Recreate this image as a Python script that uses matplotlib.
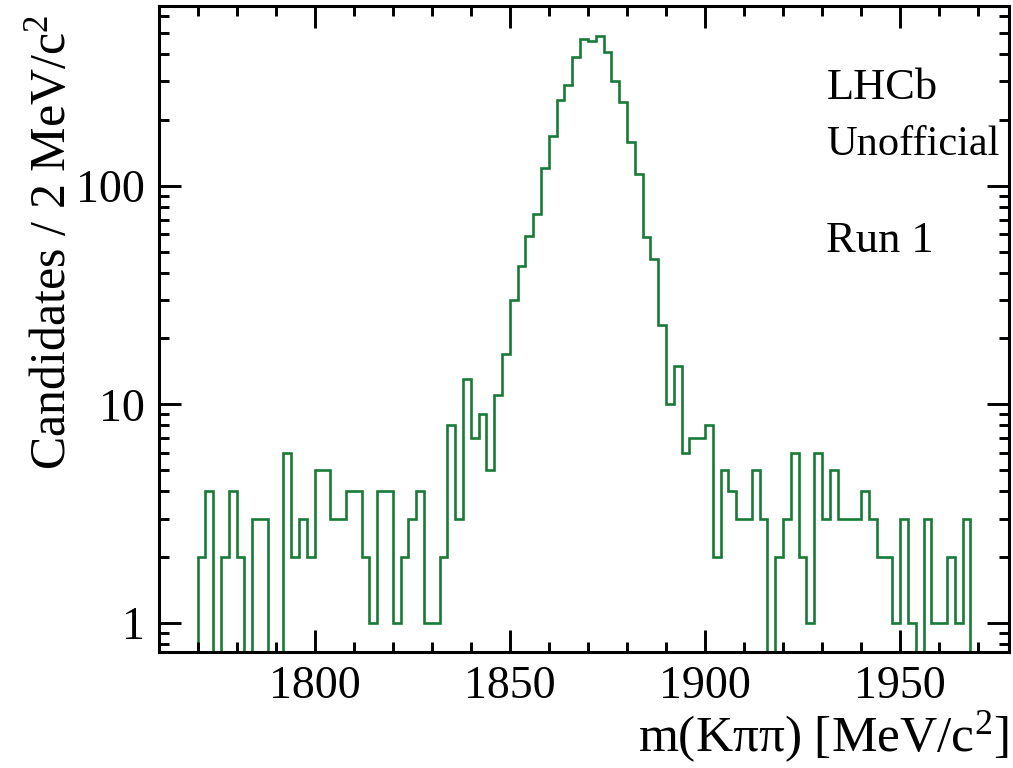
import numpy as np
import matplotlib
matplotlib.use("Agg")
import matplotlib.pyplot as plt
from matplotlib.ticker import MultipleLocator, LogLocator, NullFormatter, FixedLocator, FixedFormatter

# D -> K pi pi candidates, 2 MeV bins from 1770 to 1968 MeV
bin_low = 1770
bin_width = 2
counts = [
    2, 4, 0, 2, 4, 2, 0, 3, 3, 0,
    0, 6, 2, 3, 2, 5, 5, 3, 3, 4,
    4, 2, 1, 4, 4, 1, 2, 3, 4, 1,
    1, 2, 8, 3, 13, 7, 9, 5, 11, 17,
    30, 43, 59, 74, 120, 168, 248, 289, 387, 469,
    461, 485, 410, 302, 241, 159, 113, 58, 46, 23,
    10, 15, 6, 7, 7, 8, 2, 5, 4, 3,
    3, 5, 3, 0, 2, 3, 6, 2, 1, 6,
    3, 5, 3, 3, 3, 4, 3, 2, 2, 1,
    3, 1, 0, 3, 1, 1, 2, 1, 3,
]
y_ticks = [1, 10, 100]
y_ticklabels = ["1", "10", "100"]

counts = np.array(counts, dtype=float)
edges = bin_low + bin_width * np.arange(len(counts) + 1)

plt.rcParams['font.family'] = ['Liberation Serif', 'DejaVu Serif']
plt.rcParams['mathtext.fontset'] = 'custom'
plt.rcParams['mathtext.rm'] = 'Liberation Serif'
plt.rcParams['mathtext.it'] = 'Liberation Serif:italic'

fig = plt.figure(figsize=(10.13, 7.68), dpi=100)
ax = fig.add_axes([159 / 1013, 1 - 651.7 / 768, 850 / 1013, 645.4 / 768])

ax.stairs(counts, edges, color='#187b37', linewidth=1.9)
ax.set_yscale('log', nonpositive='clip')
span = edges[-1] - edges[0]
ax.set_xlim(edges[0] - 0.05 * span, edges[-1] + 0.05 * span)
ax.set_ylim(0.738, 662)

ax.xaxis.set_major_locator(MultipleLocator(50))
ax.xaxis.set_minor_locator(MultipleLocator(10))
ax.yaxis.set_major_locator(FixedLocator(y_ticks))
ax.yaxis.set_major_formatter(FixedFormatter(y_ticklabels))
ax.yaxis.set_minor_locator(LogLocator(base=10, subs=np.arange(2, 10)))
ax.yaxis.set_minor_formatter(NullFormatter())

ax.tick_params(which='both', direction='in', top=True, right=True, width=2.1, labelsize=33)
ax.tick_params(which='major', length=15.5, pad=10)
ax.tick_params(which='minor', length=7.5)
for sp in ax.spines.values():
    sp.set_linewidth(2.2)

ax.set_xlabel('m(Kππ) [MeV/c$^2$]', fontsize=37, loc='right', labelpad=1)
ax.set_ylabel('Candidates / 2 MeV/c$^2$', fontsize=36, loc='top')
ax.yaxis.set_label_coords(-0.097, 0.987)

ax.text(0.785, 0.856, 'LHCb', transform=ax.transAxes, fontsize=32)
ax.text(0.785, 0.770, 'Unofficial', transform=ax.transAxes, fontsize=30.5)
ax.text(0.785, 0.619, 'Run 1', transform=ax.transAxes, fontsize=32)

fig.savefig('out.png', dpi=100)
